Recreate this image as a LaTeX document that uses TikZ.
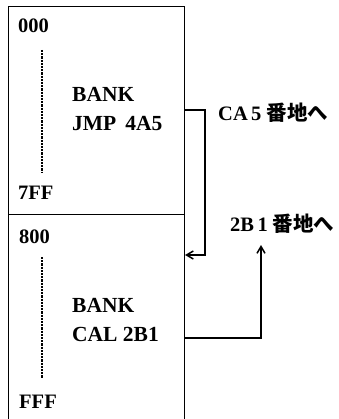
\documentclass[tikz,border=0pt]{standalone}
\usepackage{fontspec}
\setmainfont{Liberation Serif}
\newfontfamily\cjk{Noto Sans CJK JP}
\usetikzlibrary{arrows.meta}
\tikzset{
  >={Straight Barb[length=2.4mm,width=2.8mm]},
  bank box/.style={
    draw,
    line width=1.3pt,
    minimum width=176pt,
    inner sep=0pt,
    anchor=north west
  },
  addr/.style={
    font=\bfseries\fontsize{20.5}{22}\selectfont,
    anchor=base west,
    inner sep=0pt
  },
  code/.style={
    font=\bfseries\fontsize{21.5}{29}\selectfont,
    align=left,
    anchor=base west,
    inner sep=0pt
  },
  gap line/.style={
    line width=2.2pt,
    dash pattern=on 2.2pt off 1pt
  },
  jump/.style={
    line width=1.5pt,
    ->
  },
  target/.style={
    font=\bfseries\fontsize{20.5}{22}\selectfont,
    anchor=base west,
    inner sep=0pt
  }
}

\begin{document}
\begin{tikzpicture}[x=1pt,y=-1pt]
  \useasboundingbox (0,0) rectangle (338,419);
  \clip (0,0) rectangle (338,419);

  \node[bank box,minimum height=208pt] (upper) at (8,6) {};
  \node[bank box,minimum height=210pt] (lower) at (8,214) {};

  \node[addr] (a000) at (18,33) {000};
  \node[addr] (a7ff) at (18,200) {7FF};
  \node[addr] (a800) at (19,243) {800};
  \node[addr] (afff) at (19,408) {FFF};

  \coordinate (gap1 top) at (42,50);
  \coordinate (gap1 bot) at (42,172);
  \coordinate (gap2 top) at (42,257);
  \coordinate (gap2 bot) at (42,378);
  \draw[gap line] (gap1 top) -- (gap1 bot);
  \draw[gap line] (gap2 top) -- (gap2 bot);

  % base anchor sits on the last line
  \node[code] (jmp) at (72,131) {BANK\\JMP\ \,4A5};
  \node[code] (cal) at (72,341) {BANK\\CAL 2B1};

  \node[target] (ca5) at (218,121) {CA\,5 {\cjk 番地へ}};
  \node[target] (b21) at (230,231) {2B\,1 {\cjk 番地へ}};

  \coordinate (jmp out) at (184,110);
  \coordinate (jmp in) at (185,255);
  \coordinate (cal out) at (184,338);
  \coordinate (cal tip) at (261,245);

  \draw[jump] (jmp out) -- ++(21,0) |- (jmp in);
  \draw[jump] (cal out) -| (cal tip);
\end{tikzpicture}
\end{document}
